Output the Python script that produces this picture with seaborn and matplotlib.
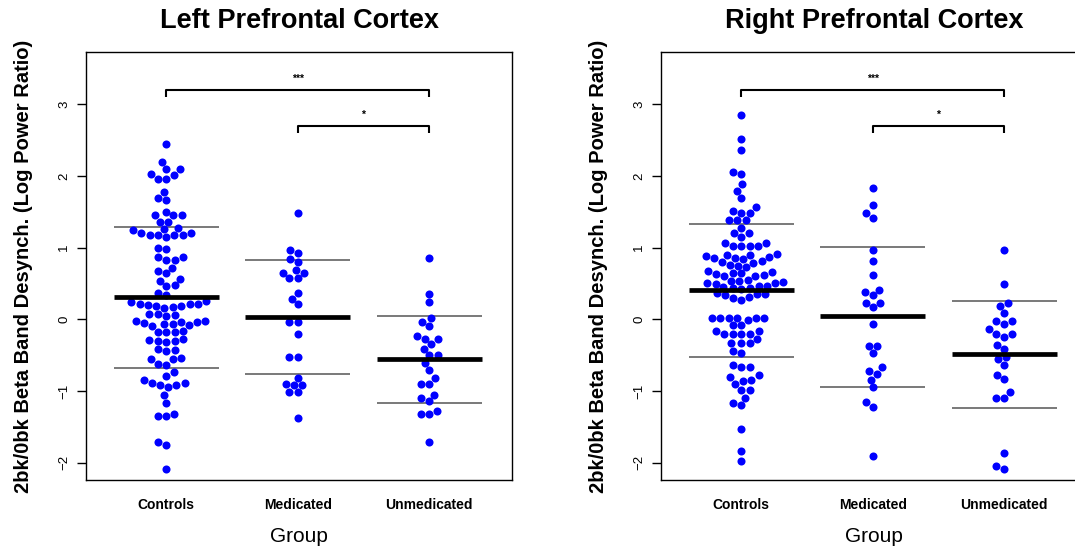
import numpy as np
import pandas as pd
import matplotlib
matplotlib.use("Agg")
import matplotlib.pyplot as plt
import seaborn as sns

# ---------------- data ----------------
groups = ["Controls", "Medicated", "Unmedicated"]

left_controls = [2.44, 2.19, 2.09, 2.09, 2.03, 2.01, 1.96, 1.96, 1.78, 1.69, 1.67,
                 1.50, 1.45, 1.45, 1.45, 1.36, 1.36, 1.28, 1.26, 1.24, 1.21, 1.21,
                 1.18, 1.18, 1.18, 1.18, 1.15, 1.00, 0.98, 0.87, 0.87, 0.83, 0.83,
                 0.72, 0.68, 0.64, 0.56, 0.53, 0.48, 0.46, 0.37, 0.34,
                 0.25, 0.24, 0.22, 0.21, 0.20, 0.19, 0.18, 0.17, 0.16, 0.22,
                 0.08, 0.06, 0.05, 0.07,
                 -0.02, -0.03, -0.04, -0.05, -0.06, -0.07, -0.08, -0.09, -0.04,
                 -0.17, -0.17, -0.18, -0.16,
                 -0.30, -0.29, -0.31, -0.30, -0.28,
                 -0.42, -0.44, -0.43, -0.55, -0.54, -0.56, -0.63, -0.62,
                 -0.74, -0.79, -0.85,
                 -0.89, -0.89, -0.92, -0.92, -0.95, -1.05, -1.16,
                 -1.32, -1.35, -1.35, -1.71, -1.75, -2.08]
left_medicated = [1.48, 0.97, 0.92, 0.84, 0.80, 0.69, 0.65, 0.65, 0.58, 0.58,
                  0.37, 0.29, 0.21, -0.04, -0.04, -0.21, -0.53, -0.53, -0.82,
                  -0.90, -0.92, -0.92, -1.02, -1.02, -1.38]
left_unmedicated = [0.86, 0.36, 0.24, 0.02, -0.04, -0.09, -0.23, -0.28, -0.28,
                    -0.35, -0.41, -0.50, -0.50, -0.61, -0.71, -0.82, -0.90, -0.90,
                    -1.05, -1.10, -1.14, -1.28, -1.32, -1.32, -1.71]

right_controls = [2.85, 2.52, 2.36, 2.05, 2.03, 1.88, 1.79, 1.69, 1.56, 1.51, 1.48,
                  1.48, 1.38, 1.38, 1.38, 1.28, 1.20, 1.20, 1.15, 1.07, 1.07, 1.02,
                  1.02, 1.02, 1.02,
                  0.91, 0.90, 0.89, 0.88, 0.87, 0.86, 0.85, 0.84, 0.81, 0.80, 0.79,
                  0.76, 0.75, 0.73, 0.67, 0.66, 0.65, 0.64, 0.63, 0.62, 0.61, 0.60,
                  0.55, 0.54, 0.53, 0.52, 0.51, 0.50, 0.49, 0.47, 0.46, 0.45, 0.44,
                  0.43, 0.42, 0.37, 0.36, 0.35, 0.34, 0.31, 0.30, 0.27,
                  0.02, 0.02, 0.02, 0.02, 0.02, 0.02, -0.01, -0.08, -0.08, -0.16,
                  -0.16, -0.20, -0.20, -0.20, -0.20, -0.27, -0.33, -0.33, -0.33,
                  -0.44, -0.47, -0.63, -0.67, -0.67, -0.78, -0.81, -0.84, -0.86,
                  -0.90, -0.98, -0.98, -1.09, -1.17, -1.19, -1.53, -1.84, -1.97]
right_medicated = [1.83, 1.59, 1.48, 1.41, 0.96, 0.82, 0.62, 0.41, 0.38, 0.34,
                   0.23, 0.23, 0.17, -0.07, -0.37, -0.37, -0.47, -0.67, -0.72,
                   -0.76, -0.84, -0.95, -1.15, -1.22, -1.90]
right_unmedicated = [0.96, 0.49, 0.23, 0.19, 0.09, -0.03, -0.03, -0.06, -0.14,
                     -0.20, -0.20, -0.24, -0.36, -0.41, -0.53, -0.56, -0.64, -0.78,
                     -0.83, -1.01, -1.09, -1.09, -1.87, -2.05, -2.09]

# group means and mean +/- SD lines as drawn in the picture
left_means = [0.31, 0.03, -0.56]
left_upper = [1.29, 0.83, 0.04]
left_lower = [-0.68, -0.76, -1.17]
right_means = [0.41, 0.04, -0.48]
right_upper = [1.33, 1.01, 0.25]
right_lower = [-0.52, -0.94, -1.24]

# significance brackets: (from group, to group, label, level)
comparisons = [(0, 2, "***", 3.20), (1, 2, "*", 2.70)]

titles = ["Left Prefrontal Cortex", "Right Prefrontal Cortex"]
ylabel = "2bk/0bk Beta Band Desynch. (Log Power Ratio)"
xlabel = "Group"
yticks = [-2, -1, 0, 1, 2, 3]

# ---------------- plotting ----------------
sns.set_style("ticks")
plt.rcParams["font.family"] = ["Liberation Sans", "DejaVu Sans"]
for k in ["text.color", "axes.labelcolor", "xtick.color", "ytick.color",
          "axes.edgecolor"]:
    plt.rcParams[k] = "black"

fig = plt.figure(figsize=(10.75, 5.48), dpi=100)
W, H = 1075, 548
ax_l = fig.add_axes([86 / W, (H - 480) / H, 426 / W, 428 / H])
ax_r = fig.add_axes([661 / W, (H - 480) / H, 426 / W, 428 / H])

panels = [
    (ax_l, [left_controls, left_medicated, left_unmedicated],
     left_means, left_upper, left_lower, titles[0]),
    (ax_r, [right_controls, right_medicated, right_unmedicated],
     right_means, right_upper, right_lower, titles[1]),
]

for ax, vals, means, upper, lower, title in panels:
    df = pd.DataFrame({
        "Group": np.repeat(groups, [len(v) for v in vals]),
        "value": np.concatenate([np.asarray(v, float) for v in vals]),
    })
    sns.swarmplot(data=df, x="Group", y="value", order=groups, color="#0000FF",
                  size=5.8, linewidth=0, ax=ax, zorder=3)
    for i in range(len(groups)):
        ax.hlines(means[i], i - 0.40, i + 0.40, color="black", lw=3.4, zorder=4)
        ax.hlines([upper[i], lower[i]], i - 0.40, i + 0.40, color="#6e6e6e",
                  lw=1.3, zorder=2)
    for a, b, lab, lev in comparisons:
        ax.plot([a, a, b, b], [lev - 0.10, lev, lev, lev - 0.10], color="black",
                lw=1.5, solid_capstyle="butt", zorder=4)
        ax.text((a + b) / 2, lev + 0.08, lab, ha="center", va="bottom",
                fontsize=7.5, fontweight="bold", color="black")
    ax.set_xlim(-0.61, 2.63)
    ax.set_ylim(-2.24, 3.727)
    ax.set_yticks(yticks)
    ax.set_yticklabels([str(t).replace("-", "\u2212") for t in yticks],
                       rotation=90, va="center", fontsize=9.5)
    ax.tick_params(axis="y", length=6.5, width=1, direction="out", pad=5,
                   colors="black")
    ax.tick_params(axis="x", length=0, pad=13, labelsize=10, colors="black")
    for lbl in ax.get_xticklabels():
        lbl.set_fontweight("bold")
    for sp in ax.spines.values():
        sp.set_visible(True)
        sp.set_color("black")
        sp.set_linewidth(1.0)
    ax.set_xlabel(xlabel, fontsize=15, labelpad=11, color="black")
    ax.set_ylabel(ylabel, fontsize=14.5, fontweight="bold", labelpad=18,
                  color="black")
    ax.set_title(title, fontsize=19.5, fontweight="bold", pad=17, color="black")

fig.savefig("out.png", dpi=100)
